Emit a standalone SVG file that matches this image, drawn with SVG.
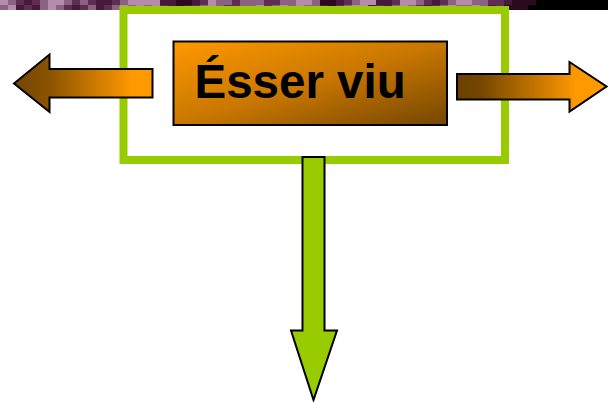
<svg xmlns="http://www.w3.org/2000/svg" width="608" height="402" viewBox="0 0 608 402">
  <defs>
    <linearGradient id="gLeft" gradientUnits="userSpaceOnUse" x1="14" y1="0" x2="153" y2="0">
      <stop offset="0" stop-color="#734500"/>
      <stop offset="0.25" stop-color="#8a5300"/>
      <stop offset="0.85" stop-color="#ff9900"/>
      <stop offset="1" stop-color="#ff9900"/>
    </linearGradient>
    <linearGradient id="gRight" gradientUnits="userSpaceOnUse" x1="457" y1="0" x2="607" y2="0">
      <stop offset="0" stop-color="#6b4000"/>
      <stop offset="0.15" stop-color="#734500"/>
      <stop offset="0.8" stop-color="#ff9900"/>
      <stop offset="1" stop-color="#ff9900"/>
    </linearGradient>
    <linearGradient id="gBox" x1="0" y1="0" x2="1" y2="1">
      <stop offset="0" stop-color="#ff9900"/>
      <stop offset="0.5" stop-color="#c97700"/>
      <stop offset="1" stop-color="#744600"/>
    </linearGradient>
    <style>
      .L{fill:#b58cab}.M{fill:#8c6283}.D{fill:#5e2e52}.K{fill:#461a3a}.X{fill:#2a0a1e}
      .arrow{stroke:#000;stroke-width:2;stroke-linejoin:miter}
      .label{font-family:"Liberation Sans",Arial,sans-serif;font-weight:bold;font-size:47.5px;fill:#000}
    </style>
  </defs>

  <g id="mosaic-band">
    <rect x="0" y="0" width="608" height="10" fill="#000"/>
    <g id="row1">
      <rect class="L" x="0" y="0" width="8" height="5"/><rect class="M" x="8" y="0" width="8" height="5"/><rect class="D" x="16" y="0" width="8" height="5"/><rect class="K" x="24" y="0" width="8" height="5"/><rect class="D" x="32" y="0" width="8" height="5"/><rect class="M" x="40" y="0" width="8" height="5"/><rect class="L" x="48" y="0" width="8" height="5"/><rect class="L" x="56" y="0" width="8" height="5"/><rect class="M" x="64" y="0" width="8" height="5"/><rect class="D" x="72" y="0" width="8" height="5"/>
      <rect class="M" x="80" y="0" width="8" height="5"/><rect class="D" x="88" y="0" width="8" height="5"/><rect class="K" x="96" y="0" width="8" height="5"/><rect class="K" x="104" y="0" width="8" height="5"/><rect class="D" x="112" y="0" width="8" height="5"/><rect class="M" x="120" y="0" width="8" height="5"/><rect class="L" x="128" y="0" width="8" height="5"/><rect class="L" x="136" y="0" width="8" height="5"/><rect class="L" x="144" y="0" width="8" height="5"/><rect class="L" x="152" y="0" width="8" height="5"/>
      <rect class="K" x="160" y="0" width="8" height="5"/><rect class="K" x="168" y="0" width="8" height="5"/><rect class="X" x="176" y="0" width="8" height="5"/><rect class="X" x="184" y="0" width="8" height="5"/><rect class="K" x="192" y="0" width="8" height="5"/><rect class="D" x="200" y="0" width="8" height="5"/><rect class="L" x="208" y="0" width="8" height="5"/><rect class="M" x="216" y="0" width="8" height="5"/><rect class="M" x="224" y="0" width="8" height="5"/><rect class="D" x="232" y="0" width="8" height="5"/>
      <rect class="M" x="240" y="0" width="8" height="5"/><rect class="M" x="248" y="0" width="8" height="5"/><rect class="M" x="256" y="0" width="8" height="5"/><rect class="D" x="264" y="0" width="8" height="5"/><rect class="D" x="272" y="0" width="8" height="5"/><rect class="M" x="280" y="0" width="8" height="5"/><rect class="M" x="288" y="0" width="8" height="5"/><rect class="L" x="296" y="0" width="8" height="5"/><rect class="L" x="304" y="0" width="8" height="5"/><rect class="M" x="312" y="0" width="8" height="5"/>
      <rect class="X" x="320" y="0" width="8" height="5"/><rect class="X" x="328" y="0" width="8" height="5"/><rect class="K" x="336" y="0" width="8" height="5"/><rect class="D" x="344" y="0" width="8" height="5"/><rect class="M" x="352" y="0" width="8" height="5"/><rect class="L" x="360" y="0" width="8" height="5"/><rect class="L" x="368" y="0" width="8" height="5"/><rect class="K" x="376" y="0" width="8" height="5"/><rect class="K" x="384" y="0" width="8" height="5"/><rect class="D" x="392" y="0" width="8" height="5"/>
      <rect class="L" x="400" y="0" width="8" height="5"/><rect class="L" x="408" y="0" width="8" height="5"/><rect class="M" x="416" y="0" width="8" height="5"/><rect class="D" x="424" y="0" width="8" height="5"/><rect class="K" x="432" y="0" width="8" height="5"/><rect class="D" x="440" y="0" width="8" height="5"/><rect class="M" x="448" y="0" width="8" height="5"/><rect class="L" x="456" y="0" width="8" height="5"/><rect class="L" x="464" y="0" width="8" height="5"/><rect class="M" x="472" y="0" width="8" height="5"/>
      <rect class="M" x="480" y="0" width="8" height="5"/><rect class="D" x="488" y="0" width="8" height="5"/><rect class="D" x="496" y="0" width="8" height="5"/><rect class="K" x="504" y="0" width="8" height="5"/><rect class="X" x="512" y="0" width="8" height="5"/><rect class="X" x="520" y="0" width="8" height="5"/><rect class="X" x="528" y="0" width="8" height="5"/>
    </g>
    <g id="row2">
      <rect class="M" x="0" y="5" width="8" height="5"/><rect class="L" x="8" y="5" width="8" height="5"/><rect class="K" x="16" y="5" width="8" height="5"/><rect class="D" x="24" y="5" width="8" height="5"/><rect class="K" x="32" y="5" width="8" height="5"/><rect class="M" x="40" y="5" width="8" height="5"/><rect class="L" x="48" y="5" width="8" height="5"/><rect class="M" x="56" y="5" width="8" height="5"/><rect class="D" x="64" y="5" width="8" height="5"/><rect class="K" x="72" y="5" width="8" height="5"/>
      <rect class="D" x="80" y="5" width="8" height="5"/><rect class="M" x="88" y="5" width="8" height="5"/><rect class="K" x="96" y="5" width="8" height="5"/><rect class="D" x="104" y="5" width="8" height="5"/><rect class="M" x="112" y="5" width="8" height="5"/><rect class="L" x="120" y="5" width="8" height="5"/><rect class="M" x="128" y="5" width="8" height="5"/><rect class="L" x="136" y="5" width="8" height="5"/><rect class="M" x="144" y="5" width="8" height="5"/><rect class="L" x="152" y="5" width="8" height="5"/>
      <rect class="D" x="160" y="5" width="8" height="5"/><rect class="K" x="168" y="5" width="8" height="5"/><rect class="X" x="176" y="5" width="8" height="5"/><rect class="K" x="184" y="5" width="8" height="5"/><rect class="D" x="192" y="5" width="8" height="5"/><rect class="M" x="200" y="5" width="8" height="5"/><rect class="L" x="208" y="5" width="8" height="5"/><rect class="M" x="216" y="5" width="8" height="5"/><rect class="D" x="224" y="5" width="8" height="5"/><rect class="D" x="232" y="5" width="8" height="5"/>
      <rect class="M" x="240" y="5" width="8" height="5"/><rect class="M" x="248" y="5" width="8" height="5"/><rect class="L" x="256" y="5" width="8" height="5"/><rect class="D" x="264" y="5" width="8" height="5"/><rect class="M" x="272" y="5" width="8" height="5"/><rect class="L" x="280" y="5" width="8" height="5"/><rect class="M" x="288" y="5" width="8" height="5"/><rect class="L" x="296" y="5" width="8" height="5"/><rect class="M" x="304" y="5" width="8" height="5"/><rect class="M" x="312" y="5" width="8" height="5"/>
      <rect class="K" x="320" y="5" width="8" height="5"/><rect class="X" x="328" y="5" width="8" height="5"/><rect class="D" x="336" y="5" width="8" height="5"/><rect class="M" x="344" y="5" width="8" height="5"/><rect class="L" x="352" y="5" width="8" height="5"/><rect class="L" x="360" y="5" width="8" height="5"/><rect class="K" x="368" y="5" width="8" height="5"/><rect class="D" x="376" y="5" width="8" height="5"/><rect class="K" x="384" y="5" width="8" height="5"/><rect class="M" x="392" y="5" width="8" height="5"/>
      <rect class="L" x="400" y="5" width="8" height="5"/><rect class="M" x="408" y="5" width="8" height="5"/><rect class="D" x="416" y="5" width="8" height="5"/><rect class="K" x="424" y="5" width="8" height="5"/><rect class="D" x="432" y="5" width="8" height="5"/><rect class="M" x="440" y="5" width="8" height="5"/><rect class="L" x="448" y="5" width="8" height="5"/><rect class="M" x="456" y="5" width="8" height="5"/><rect class="M" x="464" y="5" width="8" height="5"/><rect class="L" x="472" y="5" width="8" height="5"/>
      <rect class="M" x="480" y="5" width="8" height="5"/><rect class="K" x="488" y="5" width="8" height="5"/><rect class="D" x="496" y="5" width="8" height="5"/><rect class="X" x="504" y="5" width="8" height="5"/><rect class="X" x="512" y="5" width="8" height="5"/><rect class="X" x="520" y="5" width="8" height="5"/>
    </g>
  </g>

  <g id="frame">
    <rect x="123.5" y="10" width="381.5" height="150" fill="none" stroke="#99cc00" stroke-width="8"/>
  </g>

  <g id="node-esser-viu">
    <rect x="173.5" y="41.5" width="273.5" height="83.5" fill="url(#gBox)" stroke="#000" stroke-width="2"/>
    <text class="label" x="194.5" y="98">Ésser viu</text>
  </g>

  <g id="connectors">
    <polygon class="arrow" fill="url(#gLeft)" points="14,83.5 49.5,54.5 49.5,69 152.5,69 152.5,97.5 49.5,97.5 49.5,112"/>
    <polygon class="arrow" fill="url(#gRight)" points="457,74 569.5,74 569.5,62 606.5,86.5 569.5,111.5 569.5,99.5 457,99.5"/>
    <polygon class="arrow" fill="#99cc00" points="302.5,157 324.5,157 324.5,330.5 337,330.5 313.5,400 291,330.5 302.5,330.5"/>
  </g>
</svg>
